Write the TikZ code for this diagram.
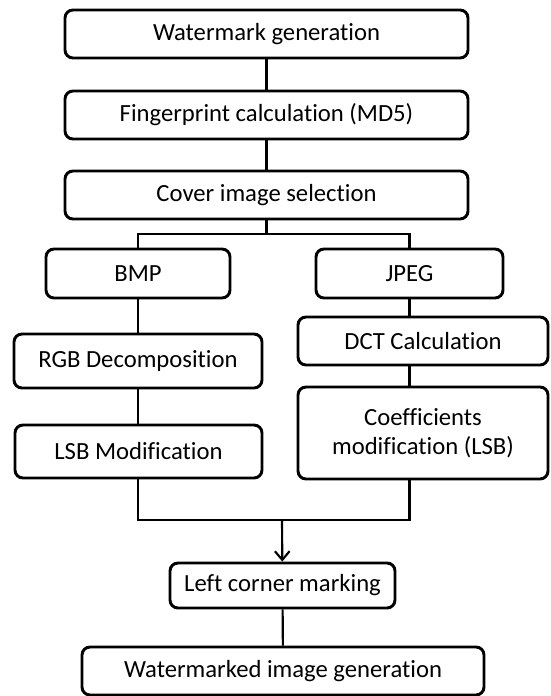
\documentclass[tikz,border=0pt]{standalone}
\usepackage{fontspec}
\setmainfont[Ligatures={NoCommon}]{Carlito}
\usetikzlibrary{positioning,calc}
\usetikzlibrary{arrows.meta}
\newdimen\pxu \pxu=0.75pt
\tikzset{
  stage/.style={draw=black,fill=white,rounded corners=6pt,line width=2.2pt,
    inner sep=0pt,align=center,font=\fontsize{18.5}{21.5}\selectfont},
  link/.style={draw=black,line width=1.6pt},
}
\begin{document}
\begin{tikzpicture}[x=0.75pt,y=-0.75pt]
\useasboundingbox (0,0) rectangle (550,696);
\node[stage,minimum width=403\pxu,minimum height=48\pxu] (wmgen) at (266.5,34) {Watermark generation};
\node[stage,minimum width=403\pxu,minimum height=48\pxu] (finger) at (266.5,115) {Fingerprint calculation (MD5)};
\node[stage,minimum width=403\pxu,minimum height=48\pxu] (cover) at (266.5,195) {Cover image selection};
\node[stage,minimum width=184\pxu,minimum height=49\pxu] (bmp) at (138,273.5) {BMP};
\node[stage,minimum width=187\pxu,minimum height=49\pxu] (jpeg) at (409.5,273.5) {JPEG};
\node[stage,minimum width=248\pxu,minimum height=54\pxu] (rgb) at (138,361) {RGB Decomposition};
\node[stage,minimum width=250\pxu,minimum height=48\pxu] (dct) at (423,341) {DCT Calculation};
\node[stage,minimum width=247\pxu,minimum height=53\pxu] (lsbmod) at (138.5,451.5) {LSB Modification};
\node[stage,minimum width=250\pxu,minimum height=92\pxu] (coeff) at (423,433) {Coefficients\\modification (LSB)};
\node[stage,minimum width=225\pxu,minimum height=45\pxu] (corner) at (282.5,585.5) {Left corner marking};
\node[stage,minimum width=402\pxu,minimum height=48\pxu] (wmimg) at (283,671) {Watermarked image generation};
\coordinate (split) at (266.5,234);
\coordinate (merge) at (282,520);
% top chain
\draw[link] (wmgen) -- (finger);
\draw[link] (finger) -- (cover);
\draw[link] (cover) -- (split);
\draw[link] (bmp.north) |- (split) -| (jpeg.north);
% BMP branch
\draw[link] (bmp) -- (rgb.north -| bmp);
\draw[link] (rgb.south -| bmp) -- (lsbmod.north -| bmp);
% JPEG branch
\draw[link] (jpeg) -- (dct.north -| jpeg);
\draw[link] (dct.south -| jpeg) -- (coeff.north -| jpeg);
% join
\draw[link] (lsbmod.south -| bmp) |- (merge) -| (coeff.south -| jpeg);
\draw[link,-{Straight Barb[length=6.5pt,width=11pt]}] (merge) -- (corner);
\draw[link] (corner) -- (wmimg);
\end{tikzpicture}
\end{document}
